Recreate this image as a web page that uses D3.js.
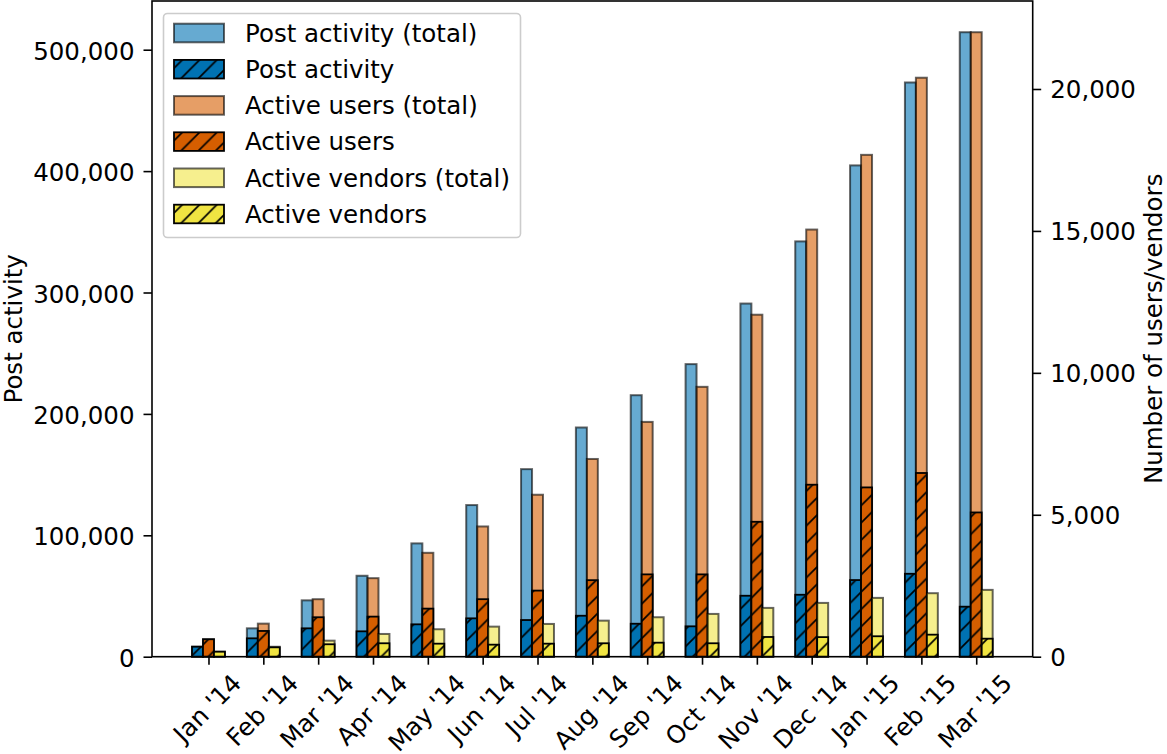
<!DOCTYPE html>
<html>
  <head>
    <title></title>
    <script src="https://cdnjs.cloudflare.com/ajax/libs/d3/7.8.5/d3.min.js"></script>
    <style>
      body { margin: 0; background: #fff; }
      text { font-family: "DejaVu Sans", sans-serif; }
    </style>
  </head>
  <body>
    <script type="text/javascript">

    // values
    const months = ["Jan '14", "Feb '14", "Mar '14", "Apr '14", "May '14", "Jun '14", "Jul '14",
      "Aug '14", "Sep '14", "Oct '14", "Nov '14", "Dec '14", "Jan '15", "Feb '15", "Mar '15"];
    const postTotal = [8230, 23370, 46420, 66670, 93330, 124900, 154500, 188800, 215400,
      241000, 290900, 342100, 404700, 473000, 514400];
    const postMonthly = [8230, 15140, 23370, 20900, 26670, 31600, 30200, 33740, 27160,
      25020, 50210, 51030, 63130, 68310, 41200];
    const usersTotal = [614, 1165, 2026, 2767, 3660, 4588, 5706, 6966, 8272, 9507,
      12048, 15048, 17680, 20397, 22000];
    const usersMonthly = [614, 907, 1390, 1412, 1694, 2026, 2329, 2696, 2900, 2900,
      4753, 6059, 5964, 6472, 5082];
    const vendorsTotal = [176, 350, 565, 801, 967, 1059, 1154, 1270, 1390, 1507,
      1719, 1895, 2072, 2237, 2354];
    const vendorsMonthly = [176, 330, 438, 473, 459, 424, 459, 473, 494, 473,
      695, 690, 720, 776, 635];

    const blue = "#0072B2", orange = "#D55E00", yellow = "#F0E442";

    let outerWidth = 1167;
    let outerHeight = 754;
    let plot = { left: 152, right: 1032.7, top: 1, bottom: 656.7 };
    let barWidth = 0.2;
    let fontSize = 24.5;

    let svg = d3.select("body").append("svg")
      .attr("width", outerWidth)
      .attr("height", outerHeight);

    // hatch '//' pattern, fixed to the page so lines run on across bars
    let hs = 17.3;
    svg.append("defs").append("pattern")
      .attr("id", "hatch")
      .attr("patternUnits", "userSpaceOnUse")
      .attr("width", hs).attr("height", hs)
      .append("path")
      .attr("d", `M-2,2 L2,-2 M0,${hs} L${hs},0 M${hs - 2},${hs + 2} L${hs + 2},${hs - 2}`)
      .attr("stroke", "black")
      .attr("stroke-width", 1.7);

    let span = (months.length - 1) + 3 * barWidth;
    let xScale = d3.scaleLinear()
      .domain([-1.5 * barWidth - 0.05 * span, months.length - 1 + 1.5 * barWidth + 0.05 * span])
      .range([plot.left, plot.right]);
    let yLeft = d3.scaleLinear()
      .domain([0, d3.max(postTotal) * 1.05])
      .range([plot.bottom, plot.top]);
    let yRight = d3.scaleLinear()
      .domain([0, d3.max(usersTotal) * 1.05])
      .range([plot.bottom, plot.top]);

    let g = svg.append("g");

    function drawTotals(data, yScale, offset, color) {
      g.append("g").selectAll("rect").data(data).enter().append("rect")
        .attr("x", (d, i) => xScale(i + offset - barWidth / 2))
        .attr("width", (d, i) => xScale(i + offset + barWidth / 2) - xScale(i + offset - barWidth / 2))
        .attr("y", d => yScale(d))
        .attr("height", d => yScale(0) - yScale(d))
        .attr("fill", color)
        .attr("fill-opacity", 0.6)
        .attr("stroke", "black")
        .attr("stroke-opacity", 0.6)
        .attr("stroke-width", 2);
    }

    function drawHatched(data, yScale, offset, color) {
      let layer = g.append("g");
      let bars = layer.selectAll("g").data(data).enter().append("g");
      let bx = (d, i) => xScale(i + offset - barWidth / 2);
      let bw = (d, i) => xScale(i + offset + barWidth / 2) - xScale(i + offset - barWidth / 2);
      bars.append("rect")
        .attr("x", bx).attr("width", bw)
        .attr("y", d => yScale(d))
        .attr("height", d => yScale(0) - yScale(d))
        .attr("fill", color);
      bars.append("rect")
        .attr("x", bx).attr("width", bw)
        .attr("y", d => yScale(d))
        .attr("height", d => yScale(0) - yScale(d))
        .attr("fill", "url(#hatch)")
        .attr("stroke", "black")
        .attr("stroke-width", 1.8);
    }

    drawTotals(postTotal, yLeft, -barWidth, blue);
    drawHatched(postMonthly, yLeft, -barWidth, blue);
    drawTotals(usersTotal, yRight, 0, orange);
    drawHatched(usersMonthly, yRight, 0, orange);
    drawTotals(vendorsTotal, yRight, barWidth, yellow);
    drawHatched(vendorsMonthly, yRight, barWidth, yellow);

    // axes
    let fmt = d3.format(",");
    function styleAxis(sel) {
      sel.select(".domain").remove();
      sel.selectAll(".tick line").attr("stroke", "black").attr("stroke-width", 1.6);
      sel.selectAll(".tick text")
        .attr("fill", "black")
        .style("font-size", fontSize + "px")
        .style("font-family", "DejaVu Sans");
    }

    let leftAxis = svg.append("g")
      .attr("transform", `translate(${plot.left},0)`)
      .call(d3.axisLeft(yLeft).tickValues([0, 100000, 200000, 300000, 400000, 500000])
        .tickFormat(fmt).tickSize(8.5).tickPadding(9));
    styleAxis(leftAxis);
    leftAxis.selectAll(".tick text").attr("dy", null).attr("y", 9.5);

    let rightAxis = svg.append("g")
      .attr("transform", `translate(${plot.right},0)`)
      .call(d3.axisRight(yRight).tickValues([0, 5000, 10000, 15000, 20000])
        .tickFormat(fmt).tickSize(8.5).tickPadding(9));
    styleAxis(rightAxis);
    rightAxis.selectAll(".tick text").attr("dy", null).attr("y", 9);

    let bottomAxis = svg.append("g")
      .attr("transform", `translate(0,${plot.bottom})`)
      .call(d3.axisBottom(xScale).tickValues(d3.range(months.length))
        .tickFormat(i => months[i]).tickSize(8));
    styleAxis(bottomAxis);
    bottomAxis.selectAll(".tick text").each(function() {
      let t = d3.select(this);
      let w = this.getComputedTextLength();
      let h = fontSize;
      let half = (w + h) / (2 * Math.SQRT2);
      t.attr("text-anchor", "middle").attr("dy", null).attr("y", 0)
        .attr("transform", `translate(4.4,${15 + half + 4.4}) rotate(-45)`);
    });

    // spines
    svg.append("rect")
      .attr("x", plot.left).attr("y", plot.top)
      .attr("width", plot.right - plot.left)
      .attr("height", plot.bottom - plot.top)
      .attr("fill", "none")
      .attr("stroke", "black")
      .attr("stroke-width", 1.6);

    // axis titles
    let midY = (plot.top + plot.bottom) / 2;
    svg.append("text")
      .attr("transform", `translate(22,${midY}) rotate(-90)`)
      .attr("text-anchor", "middle")
      .style("font-size", fontSize + "px")
      .text("Post activity");
    svg.append("text")
      .attr("transform", `translate(1161.5,${midY}) rotate(-90)`)
      .attr("text-anchor", "middle")
      .style("font-size", fontSize + "px")
      .text("Number of users/vendors");

    // legend
    let legendItems = [
      { label: "Post activity (total)", color: blue, hatched: false },
      { label: "Post activity", color: blue, hatched: true },
      { label: "Active users (total)", color: orange, hatched: false },
      { label: "Active users", color: orange, hatched: true },
      { label: "Active vendors (total)", color: yellow, hatched: false },
      { label: "Active vendors", color: yellow, hatched: true }
    ];
    let legend = svg.append("g");
    legend.append("rect")
      .attr("x", 163.5).attr("y", 13.5)
      .attr("width", 357).attr("height", 224)
      .attr("rx", 4)
      .attr("fill", "white").attr("fill-opacity", 0.8)
      .attr("stroke", "#cccccc").attr("stroke-width", 1.6);
    let rows = legend.selectAll("g.item").data(legendItems).enter().append("g")
      .attr("class", "item")
      .attr("transform", (d, i) => `translate(0,${33 + i * 36.2})`);
    rows.each(function(d) {
      let r = d3.select(this);
      if (d.hatched) {
        r.append("rect").attr("x", 174).attr("y", -9.3).attr("width", 50).attr("height", 18.6)
          .attr("fill", d.color);
        r.append("rect").attr("x", 174).attr("y", -9.3).attr("width", 50).attr("height", 18.6)
          .attr("fill", "url(#hatch)").attr("stroke", "black").attr("stroke-width", 1.8);
      } else {
        r.append("rect").attr("x", 174).attr("y", -9.3).attr("width", 50).attr("height", 18.6)
          .attr("fill", d.color).attr("fill-opacity", 0.6)
          .attr("stroke", "black").attr("stroke-opacity", 0.6).attr("stroke-width", 2);
      }
      r.append("text")
        .attr("x", 245).attr("y", 8.7)
        .style("font-size", fontSize + "px")
        .text(d.label);
    });

    </script>
  </body>
</html>
